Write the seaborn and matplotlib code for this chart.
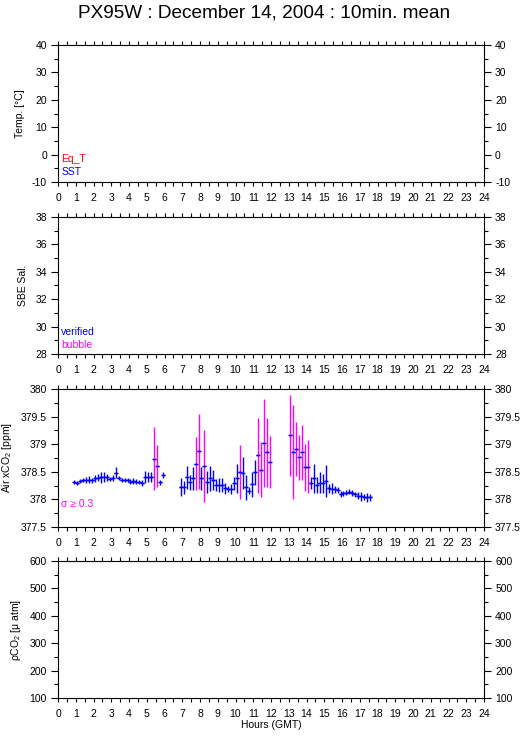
import numpy as np
import pandas as pd
import matplotlib
matplotlib.use("Agg")
import matplotlib.pyplot as plt
from matplotlib.ticker import MultipleLocator, FormatStrFormatter
import seaborn as sns

# ---------------- data ----------------
title = "PX95W : December 14, 2004 : 10min. mean"

# minutes of day (GMT) of each 10-min mean
minutes_seg1 = [55, 65, 75, 85, 95, 105, 115, 125, 135, 145, 155, 165, 175, 185, 195,
                205, 215, 225, 235, 245, 255, 265, 275, 285, 295, 305, 315, 325, 335, 345, 355]
minutes_seg2 = [415, 425, 435, 445, 455, 465, 475, 485, 495, 505, 515, 525, 535, 545, 555,
                565, 575, 585, 595, 605, 615, 625, 635, 645, 655, 665, 675, 685, 695, 705, 715]
minutes_seg3 = [785, 795, 805, 815, 825, 835, 845, 855, 865, 875, 885, 895, 905, 915,
                925, 935, 945, 955, 965, 975, 985, 995, 1005, 1015, 1025, 1035, 1045, 1055]

xco2_seg1 = [378.32, 378.30, 378.33, 378.35, 378.35, 378.36, 378.35, 378.38, 378.39, 378.40,
             378.40, 378.40, 378.37, 378.39, 378.48, 378.38, 378.35, 378.35, 378.35, 378.32,
             378.33, 378.32, 378.32, 378.30, 378.40, 378.41, 378.40, 378.74, 378.60, 378.31, 378.44]
sigma_seg1 = [0.04, 0.04, 0.04, 0.04, 0.05, 0.055, 0.045, 0.07, 0.065, 0.10,
              0.09, 0.065, 0.04, 0.05, 0.10, 0.035, 0.04, 0.04, 0.04, 0.05,
              0.055, 0.045, 0.04, 0.06, 0.11, 0.095, 0.09, 0.57, 0.38, 0.045, 0.06]

xco2_seg2 = [378.22, 378.22, 378.40, 378.31, 378.38, 378.65, 378.87, 378.38, 378.60, 378.31,
             378.38, 378.35, 378.26, 378.26, 378.26, 378.20, 378.19, 378.19, 378.29, 378.38,
             378.49, 378.47, 378.22, 378.16, 378.27, 378.49, 378.80, 378.54, 379.02, 378.85, 378.67]
sigma_seg2 = [0.16, 0.115, 0.205, 0.135, 0.21, 0.48, 0.68, 0.205, 0.65, 0.20,
              0.22, 0.175, 0.115, 0.12, 0.13, 0.095, 0.06, 0.095, 0.12, 0.255,
              0.49, 0.29, 0.23, 0.07, 0.22, 0.225, 0.68, 0.50, 0.80, 0.62, 0.47]

xco2_seg3 = [379.16, 378.86, 378.91, 378.76, 378.85, 378.58, 378.59, 378.29, 378.38, 378.26,
             378.30, 378.29, 378.33, 378.20, 378.19, 378.18, 378.17, 378.10, 378.11, 378.12,
             378.14, 378.11, 378.09, 378.07, 378.06, 378.04, 378.04, 378.04]
sigma_seg3 = [0.73, 0.85, 0.49, 0.40, 0.49, 0.42, 0.48, 0.11, 0.26, 0.15,
              0.19, 0.17, 0.29, 0.085, 0.10, 0.06, 0.055, 0.055, 0.045, 0.045,
              0.04, 0.055, 0.05, 0.06, 0.08, 0.055, 0.08, 0.06]

sigma_threshold = 0.3

hour_ticks = list(range(0, 25))
temp_lim, temp_major, temp_minor = (-10, 40), 10, 5
sal_lim, sal_major, sal_minor = (28, 38), 2, 1
xco2_lim, xco2_major, xco2_minor = (377.5, 380), 0.5, 0.25
pco2_lim, pco2_major, pco2_minor = (100, 600), 100, 50

# ---------------- style ----------------
sns.set_theme(style="ticks")
plt.rcParams['font.family'] = ['Liberation Sans', 'DejaVu Sans']
plt.rcParams['mathtext.default'] = 'regular'
plt.rcParams['axes.linewidth'] = 0.8

BLUE = (0, 0, 1)
MAGENTA = (1, 0, 1)
RED = (1, 0, 0)

W, H = 529, 739
fig = plt.figure(figsize=(W / 100, H / 100), dpi=100)
fig.patch.set_facecolor('white')

left_px, right_px = 58, 484
panel_px = [(45, 182), (217, 354), (389, 527), (561, 698)]

axes = []
for top, bot in panel_px:
    ax = fig.add_axes([left_px / W, 1 - bot / H, (right_px - left_px) / W, (bot - top) / H])
    axes.append(ax)

specs = [
    (temp_lim, temp_major, temp_minor, "Temp. [°C]", "%d"),
    (sal_lim, sal_major, sal_minor, "SBE Sal.", "%d"),
    (xco2_lim, xco2_major, xco2_minor, "Air xCO$_2$ [ppm]", None),
    (pco2_lim, pco2_major, pco2_minor, "ρCO$_2$ [μ atm]", "%d"),
]

def fmt_co2(v, pos):
    s = ("%.1f" % v)
    return s[:-2] if s.endswith(".0") else s

for ax, (lim, maj, mnr, lab, fmt) in zip(axes, specs):
    ax.set_facecolor('white')
    ax.set_xlim(0, 24)
    ax.set_ylim(*lim)
    ax.set_xticks(hour_ticks)
    ax.set_xticklabels([str(h) for h in hour_ticks])
    ax.xaxis.set_minor_locator(MultipleLocator(0.5))
    ax.yaxis.set_major_locator(MultipleLocator(maj))
    ax.yaxis.set_minor_locator(MultipleLocator(mnr))
    if fmt is None:
        ax.yaxis.set_major_formatter(matplotlib.ticker.FuncFormatter(fmt_co2))
    else:
        ax.yaxis.set_major_formatter(FormatStrFormatter(fmt))
    for sp in ax.spines.values():
        sp.set_visible(True)
        sp.set_color('black')
        sp.set_linewidth(0.8)
    ax.tick_params(axis='x', which='both', direction='out', top=True, bottom=True,
                   length=3, width=0.8, color='black', labelsize=7.5, pad=5,
                   labelcolor='black')
    ax.tick_params(axis='y', which='major', direction='out', left=True, right=True,
                   labelleft=True, labelright=True, length=5, width=0.8,
                   color='black', labelsize=7.5, pad=3, labelcolor='black')
    ax.tick_params(axis='y', which='minor', direction='out', left=True, right=True,
                   length=3, width=0.8, color='black')
    ax.set_ylabel(lab, fontsize=7.5, color='black', labelpad=5)
    ax.grid(False)

axes[-1].set_xlabel("Hours (GMT)", fontsize=7.5, color='black', labelpad=1)
fig.text(0.5, 1 - 13 / H, title, ha='center', va='center', fontsize=13.7, color='black')

# legends / annotations
axes[0].text(0.008, 0.17, "Eq_T", transform=axes[0].transAxes, color=RED, fontsize=7.5, va='center')
axes[0].text(0.008, 0.07, "SST", transform=axes[0].transAxes, color=BLUE, fontsize=7.5, va='center')
axes[1].text(0.008, 0.16, "verified", transform=axes[1].transAxes, color=BLUE, fontsize=7.5, va='center')
axes[1].text(0.008, 0.065, "bubble", transform=axes[1].transAxes, color=MAGENTA, fontsize=7.5, va='center')
axes[2].text(0.008, 0.165, "σ ≥ 0.3", transform=axes[2].transAxes, color=MAGENTA, fontsize=7.5, va='center')

# ---------------- xCO2 panel ----------------
df = pd.DataFrame({
    "minute": minutes_seg1 + minutes_seg2 + minutes_seg3,
    "xco2": xco2_seg1 + xco2_seg2 + xco2_seg3,
    "sigma": sigma_seg1 + sigma_seg2 + sigma_seg3,
})
df["hour"] = df["minute"] / 60.0
df["flag"] = np.where(df["sigma"] >= sigma_threshold, "bubble", "ok")

ax = axes[2]
cols = [MAGENTA if f == "bubble" else BLUE for f in df["flag"]]
ax.vlines(df["hour"], df["xco2"] - df["sigma"], df["xco2"] + df["sigma"],
          colors=cols, linewidth=1.0, zorder=2)
ax.hlines(df["xco2"], df["hour"] - 5 / 60, df["hour"] + 5 / 60,
          colors=[BLUE], linewidth=1.0, zorder=3)
sns.scatterplot(data=df, x="hour", y="xco2", ax=ax, marker="_", s=6,
                color=BLUE, linewidth=1.0, legend=False, zorder=3)
ax.set_xlabel("")
ax.set_ylabel("Air xCO$_2$ [ppm]", fontsize=7.5, color='black', labelpad=5)

fig.savefig("out.png", dpi=100, facecolor='white')
